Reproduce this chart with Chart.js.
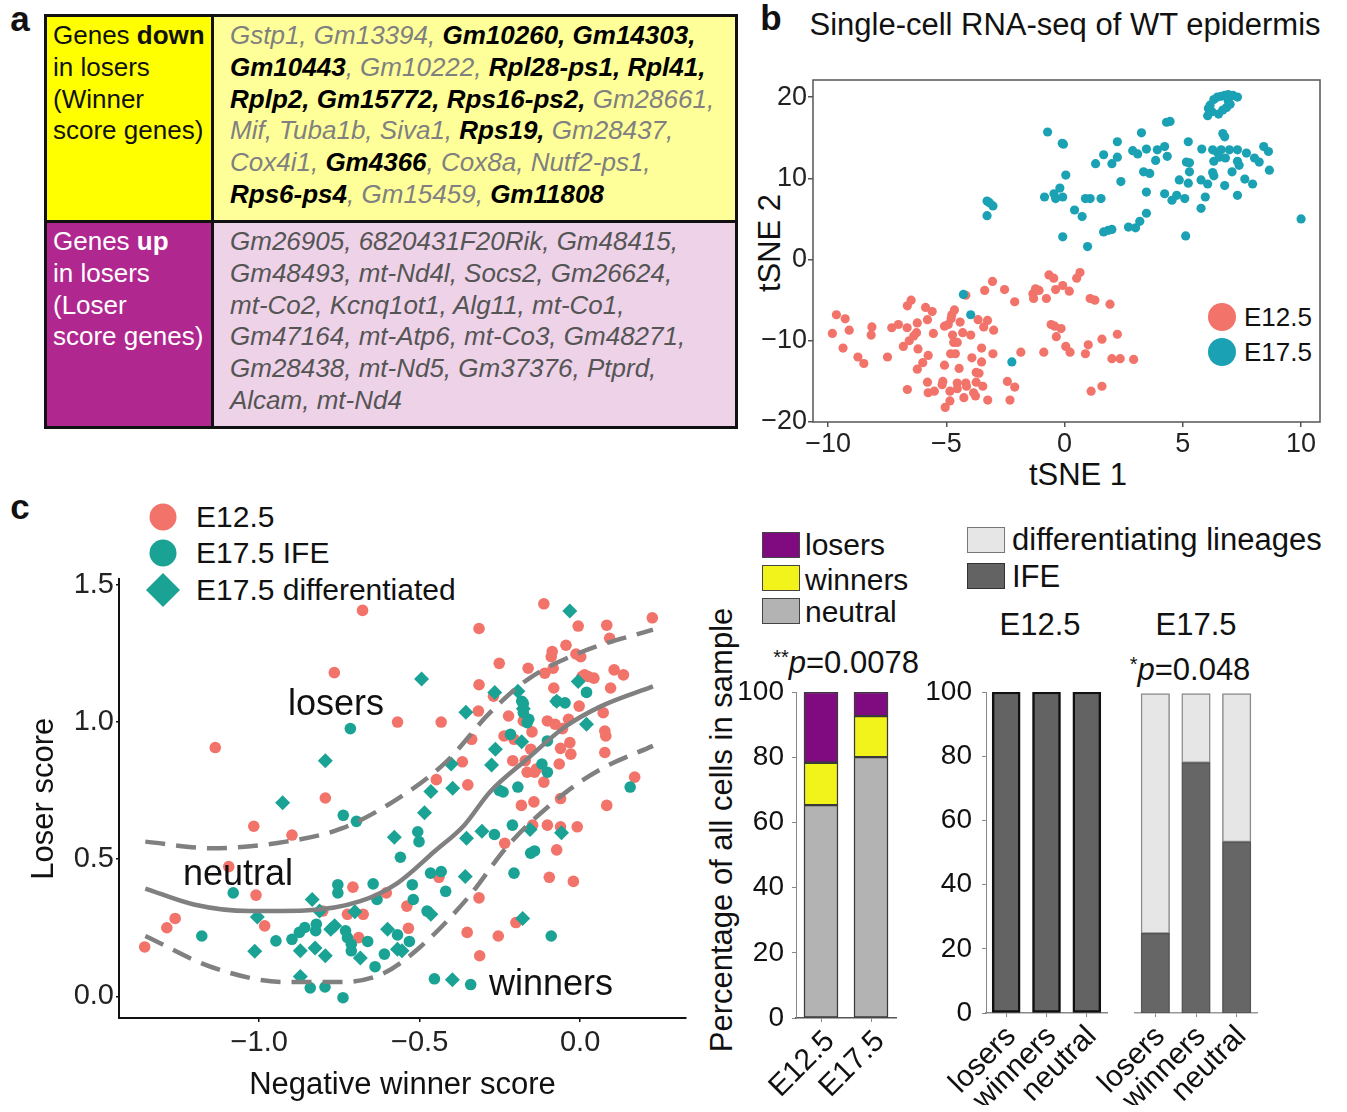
<!DOCTYPE html>
<html><head><meta charset="utf-8">
<script src="https://cdn.jsdelivr.net/npm/chart.js@4.4.1/dist/chart.umd.min.js"></script>
<style>
html,body{margin:0;padding:0;background:#fff;}
body{width:1347px;height:1112px;position:relative;overflow:hidden;font-family:'Liberation Sans',Arial,sans-serif;color:#111;}
.c{position:absolute;transform:translate(-50%,-50%);white-space:nowrap;}
.l{position:absolute;transform:translateY(-50%);white-space:nowrap;}
.rot{position:absolute;transform:translate(-50%,-50%) rotate(-90deg);white-space:nowrap;}
canvas{position:absolute;}
.cell{position:absolute;box-sizing:border-box;border:3px solid #111;font-size:26px;line-height:31.8px;white-space:nowrap;}
.g{color:#808080;font-style:italic;}
.k{color:#000;font-style:italic;font-weight:bold;}
.box{position:absolute;box-sizing:border-box;border:1.5px solid #444;}
.dot{position:absolute;border-radius:50%;transform:translate(-50%,-50%);}
</style>
</head><body>

<!-- panel letters -->
<div class="c" style="left:20px;top:19px;font-size:35px;font-weight:bold;">a</div>
<div class="c" style="left:771px;top:18px;font-size:35px;font-weight:bold;">b</div>
<div class="c" style="left:20px;top:507px;font-size:35px;font-weight:bold;">c</div>

<!-- panel a table -->
<div class="cell" style="left:44px;top:14px;width:170px;height:209px;background:#ffff00;padding:3px 0 0 6px;">Genes <b>down</b><br>in losers<br>(Winner<br>score genes)</div>
<div class="cell" style="left:211px;top:14px;width:527px;height:209px;background:#ffff99;padding:3px 0 0 16px;">
<span class="g">Gstp1, Gm13394, </span><span class="k">Gm10260, Gm14303,</span><br>
<span class="k">Gm10443</span><span class="g">, Gm10222, </span><span class="k">Rpl28-ps1, Rpl41,</span><br>
<span class="k">Rplp2, Gm15772, Rps16-ps2,</span><span class="g"> Gm28661,</span><br>
<span class="g">Mif, Tuba1b, Siva1, </span><span class="k">Rps19,</span><span class="g"> Gm28437,</span><br>
<span class="g">Cox4i1, </span><span class="k">Gm4366</span><span class="g">, Cox8a, Nutf2-ps1,</span><br>
<span class="k">Rps6-ps4</span><span class="g">, Gm15459, </span><span class="k">Gm11808</span></div>
<div class="cell" style="left:44px;top:220px;width:170px;height:209px;background:#b0288f;color:#fff;padding:3px 0 0 6px;">Genes <b>up</b><br>in losers<br>(Loser<br>score genes)</div>
<div class="cell" style="left:211px;top:220px;width:527px;height:209px;background:#eed2e8;color:#555;font-style:italic;padding:3px 0 0 16px;">Gm26905, 6820431F20Rik, Gm48415,<br>Gm48493, mt-Nd4l, Socs2, Gm26624,<br>mt-Co2, Kcnq1ot1, Alg11, mt-Co1,<br>Gm47164, mt-Atp6, mt-Co3, Gm48271,<br>Gm28438, mt-Nd5, Gm37376, Ptprd,<br>Alcam, mt-Nd4</div>

<!-- panel b texts -->
<div class="c" style="left:1065px;top:25px;font-size:31px;">Single-cell RNA-seq of WT epidermis</div>
<div class="rot" style="left:770px;top:243px;font-size:31px;">tSNE 2</div>
<div class="c" style="left:1078px;top:475px;font-size:31px;">tSNE 1</div>
<div class="dot" style="left:1222px;top:317px;width:28px;height:28px;background:#f1736a;"></div>
<div class="dot" style="left:1222px;top:352px;width:28px;height:28px;background:#1ba1b4;"></div>
<div class="l" style="left:1244px;top:317px;font-size:26px;">E12.5</div>
<div class="l" style="left:1244px;top:352px;font-size:26px;">E17.5</div>

<!-- panel c scatter legend -->
<div class="dot" style="left:163px;top:517px;width:27px;height:27px;background:#f1736a;"></div>
<div class="dot" style="left:163px;top:553px;width:27px;height:27px;background:#1aa394;"></div>
<div style="position:absolute;left:151px;top:578px;width:24px;height:24px;background:#1aa394;transform:rotate(45deg);"></div>
<div class="l" style="left:196px;top:517px;font-size:30px;">E12.5</div>
<div class="l" style="left:196px;top:553px;font-size:30px;">E17.5 IFE</div>
<div class="l" style="left:196px;top:590px;font-size:30px;">E17.5 differentiated</div>

<!-- bar legends and titles -->
<div class="box" style="left:762px;top:532px;width:38px;height:26px;background:#800a80;"></div>
<div class="box" style="left:762px;top:565px;width:38px;height:26px;background:#f3f31c;"></div>
<div class="box" style="left:762px;top:598px;width:38px;height:26px;background:#b3b3b3;"></div>
<div class="l" style="left:805px;top:545px;font-size:30px;">losers</div>
<div class="l" style="left:805px;top:580px;font-size:30px;">winners</div>
<div class="l" style="left:805px;top:612px;font-size:30px;">neutral</div>
<div class="box" style="left:967px;top:527px;width:38px;height:26px;background:#e6e6e6;border-color:#777;"></div>
<div class="box" style="left:967px;top:563px;width:38px;height:26px;background:#636363;border-color:#333;"></div>
<div class="l" style="left:1012px;top:540px;font-size:31px;">differentiating lineages</div>
<div class="l" style="left:1012px;top:577px;font-size:31px;">IFE</div>
<div class="c" style="left:1040px;top:625px;font-size:31px;">E12.5</div>
<div class="c" style="left:1196px;top:625px;font-size:31px;">E17.5</div>
<div class="c" style="left:846px;top:663px;font-size:31px;"><span style="font-size:20px;position:relative;top:-9px;">**</span><i>p</i>=0.0078</div>
<div class="c" style="left:1190px;top:670px;font-size:31px;"><span style="font-size:20px;position:relative;top:-9px;">*</span><i>p</i>=0.048</div>
<div class="rot" style="left:722px;top:830px;font-size:31px;">Percentage of all cells in sample</div>

<canvas id="cb" width="640" height="460" style="left:700px;top:50px;"></canvas>
<canvas id="cc" width="700" height="550" style="left:0px;top:560px;"></canvas>
<canvas id="cl" width="230" height="460" style="left:700px;top:650px;"></canvas>
<canvas id="cm" width="205" height="460" style="left:915px;top:650px;"></canvas>
<canvas id="cr" width="262" height="460" style="left:1085px;top:650px;"></canvas>

<!-- annotations over scatter c -->
<div class="c" style="left:336px;top:703px;font-size:36px;">losers</div>
<div class="c" style="left:238px;top:873px;font-size:36px;">neutral</div>
<div class="c" style="left:551px;top:983px;font-size:36px;">winners</div>

<script>
// ---------- panel b: tSNE ----------
const tsneE125 = [[-9.65,-6.8],[-9.28,-7.3],[-9.82,-9.1],[-9.37,-10.9],[-9.11,-8.7],[-8.74,-12.0],[-8.49,-12.8],[-8.15,-8.3],[-8.18,-9.3],[-7.49,-12.0],[-7.31,-8.4],[-7.03,-8.0],[-6.82,-10.7],[-6.66,-8.4],[-6.65,-5.7],[-6.49,-5.0],[-6.57,-10.0],[-6.38,-9.4],[-6.26,-9.0],[-6.23,-7.8],[-6.2,-11.0],[-6.23,-13.5],[-6.0,-12.7],[-5.88,-5.9],[-5.8,-7.4],[-5.77,-11.8],[-5.8,-15.1],[-5.77,-16.4],[-5.6,-6.4],[-5.55,-9.1],[-5.51,-16.2],[-6.65,-16.0],[-5.18,-15.4],[-5.15,-15.0],[-5.08,-13.0],[-5.05,-18.2],[-5.08,-8.2],[-4.92,-8.0],[-4.85,-17.4],[-4.85,-16.2],[-4.8,-7.3],[-4.77,-6.8],[-4.66,-6.2],[-4.74,-9.3],[-4.69,-10.2],[-4.54,-10.2],[-4.82,-11.6],[-4.62,-11.6],[-4.54,-15.2],[-4.54,-15.9],[-4.46,-13.4],[-4.42,-7.7],[-4.31,-9.0],[-4.18,-4.4],[-4.18,-15.2],[-4.26,-17.0],[-4.15,-15.6],[-3.97,-9.3],[-3.92,-12.1],[-3.85,-16.4],[-3.77,-16.8],[-3.74,-13.9],[-3.62,-14.0],[-3.74,-15.1],[-3.66,-7.4],[-3.51,-10.9],[-3.51,-12.6],[-3.46,-15.6],[-3.42,-8.3],[-3.38,-3.8],[-3.26,-7.5],[-3.25,-17.3],[-3.05,-2.7],[-3.03,-11.6],[-3.0,-8.7],[-2.54,-3.7],[-2.42,-15.0],[-2.31,-17.3],[-2.11,-5.2],[-2.11,-15.7],[-1.85,-11.4],[-1.34,-4.2],[-1.31,-4.8],[-1.23,-3.6],[-1.08,-3.8],[-0.77,-4.8],[-0.88,-11.4],[-0.66,-1.9],[-0.46,-2.3],[-0.38,-3.7],[-0.57,-8.0],[-0.42,-8.2],[-0.35,-9.5],[-0.15,-8.5],[-0.08,-3.2],[0.05,-10.7],[0.23,-11.4],[0.2,-3.9],[0.51,-2.3],[0.65,-1.6],[0.88,-11.6],[1.0,-10.5],[1.08,-4.8],[1.28,-5.0],[1.12,-16.2],[1.58,-9.8],[1.58,-15.6],[1.92,-5.5],[2.0,-12.2],[2.23,-9.2],[2.35,-12.2],[2.92,-12.3]];
const tsneE175 = [[-0.72,15.7],[-0.1,14.3],[-0.05,14.2],[0.05,10.4],[-0.85,7.7],[-0.45,8.1],[-0.38,7.5],[-0.2,8.8],[-0.08,7.7],[-0.08,2.8],[0.42,6.1],[0.74,5.3],[0.88,7.5],[1.08,7.5],[0.97,1.6],[1.31,11.8],[1.54,7.5],[1.65,12.9],[2.0,11.8],[2.23,12.6],[2.23,14.5],[2.38,9.6],[1.65,3.4],[1.85,3.6],[2.0,3.7],[2.7,4.0],[3.0,3.9],[3.18,4.7],[2.88,13.4],[3.09,13.0],[3.25,15.6],[3.34,10.8],[3.46,13.6],[3.6,10.6],[3.46,8.3],[3.46,5.7],[3.92,13.5],[3.85,12.2],[4.23,13.9],[4.34,12.7],[4.23,8.1],[4.54,7.3],[4.74,7.9],[4.31,16.9],[4.46,17.0],[4.85,9.8],[5.08,7.5],[5.12,2.9],[5.23,14.5],[5.15,12.0],[5.28,11.9],[5.28,10.8],[5.23,9.4],[5.77,9.8],[5.8,13.6],[5.77,6.3],[5.95,7.7],[6.05,9.3],[6.26,13.5],[6.31,12.1],[6.26,10.7],[6.31,10.3],[6.46,13.2],[6.54,12.6],[6.62,13.5],[6.69,15.5],[6.77,15.1],[6.8,12.5],[6.77,9.1],[6.97,13.5],[7.08,10.8],[7.31,13.5],[7.31,12.1],[7.38,11.6],[7.31,7.9],[7.62,9.9],[7.69,13.1],[7.95,9.3],[8.03,12.5],[8.23,12.0],[8.42,13.9],[8.62,13.3],[8.66,11.0],[10.0,5.0],[6.08,18.6],[6.15,19.0],[6.31,19.7],[6.46,20.0],[6.62,20.1],[6.77,20.2],[6.92,20.3],[7.12,20.2],[7.31,20.0],[6.23,18.2],[6.05,17.7],[6.51,17.9],[6.69,18.4],[6.85,18.7],[7.0,19.1],[6.92,19.5],[-3.28,7.2],[-3.18,7.0],[-3.03,6.6],[-3.28,5.4],[-4.28,-4.3],[-3.97,-6.8],[-2.23,-12.6]];
const tsneXTicks = [-10,-5,0,5,10];
const tsneXTickLabels = ['\u221210','\u22125','0','5','10'];
const tsneYTicks = [-20,-10,0,10,20];
const tsneYTickLabels = ['\u221220','\u221210','0','10','20'];

// ---------- panel c: scores ----------
const scoreE125 = [[-1.357,0.18],[-1.288,0.25],[-1.262,0.284],[-1.137,0.907],[-1.095,0.473],[-1.017,0.62],[-1.01,0.369],[-0.983,0.257],[-0.898,0.588],[-0.794,0.723],[-0.766,1.18],[-0.802,0.311],[-0.708,0.398],[-0.725,0.299],[-0.676,0.299],[-0.69,0.214],[-0.678,1.407],[-0.604,0.377],[-0.569,1.0],[-0.54,0.329],[-0.535,0.248],[-0.44,0.434],[-0.448,0.79],[-0.433,1.0],[-0.367,0.855],[-0.35,0.771],[-0.352,0.233],[-0.338,0.937],[-0.317,1.04],[-0.315,1.136],[-0.315,1.341],[-0.315,0.359],[-0.313,0.148],[-0.27,1.094],[-0.252,1.214],[-0.237,0.949],[-0.235,0.558],[-0.255,0.22],[-0.223,1.022],[-0.21,0.859],[-0.206,0.937],[-0.2,0.269],[-0.183,0.696],[-0.177,1.004],[-0.171,0.859],[-0.165,0.817],[-0.162,1.196],[-0.154,0.901],[-0.15,0.964],[-0.144,0.709],[-0.142,0.817],[-0.136,0.829],[-0.148,0.624],[-0.113,0.781],[-0.11,1.178],[-0.102,1.004],[-0.102,0.624],[-0.096,0.434],[-0.09,1.238],[-0.087,1.257],[-0.084,1.196],[-0.082,1.124],[-0.078,0.992],[-0.073,0.534],[-0.065,0.847],[-0.061,0.721],[-0.061,0.618],[-0.061,0.904],[-0.055,0.976],[-0.044,1.28],[-0.036,1.01],[-0.032,0.925],[-0.029,0.883],[-0.021,0.419],[-0.013,1.248],[-0.009,0.618],[-0.006,1.35],[-0.003,1.058],[0.002,1.238],[0.006,1.166],[0.014,1.172],[0.025,1.166],[0.043,1.16],[0.072,1.034],[0.077,0.967],[0.08,0.949],[0.077,0.889],[0.083,1.353],[0.083,0.696],[0.092,1.305],[0.095,1.124],[0.106,1.19],[0.135,1.172],[0.17,0.799],[0.225,1.38],[-0.113,1.431]];
const scoreIFE = [[-1.179,0.22],[-1.081,0.377],[-0.948,0.202],[-0.898,0.208],[-0.875,0.233],[-0.858,0.251],[-0.841,0.031],[-0.824,0.239],[-0.822,0.263],[-0.795,0.034],[-0.755,0.407],[-0.755,0.377],[-0.738,0.66],[-0.731,0.239],[-0.725,0.214],[-0.713,0.19],[-0.713,0.166],[-0.739,-0.005],[-0.716,0.976],[-0.697,0.638],[-0.662,0.2],[-0.645,0.41],[-0.639,0.108],[-0.633,0.353],[-0.61,0.154],[-0.569,0.224],[-0.56,0.507],[-0.532,0.2],[-0.523,0.407],[-0.52,0.353],[-0.506,0.6],[-0.502,0.564],[-0.477,0.311],[-0.466,0.449],[-0.433,0.455],[-0.419,0.383],[-0.454,0.064],[-0.341,0.043],[-0.267,0.59],[-0.252,0.751],[-0.24,0.745],[-0.211,0.624],[-0.217,0.955],[-0.206,0.449],[-0.194,0.763],[-0.182,1.076],[-0.177,1.034],[-0.165,0.998],[-0.154,0.522],[-0.142,0.53],[-0.119,0.847],[-0.102,0.817],[-0.102,0.931],[-0.09,0.22],[-0.073,1.076],[-0.047,1.07],[0.02,1.108],[0.156,0.763],[-0.177,1.068],[-0.16,1.01]];
const scoreDiff = [[-1.014,0.164],[-1.006,0.289],[-0.927,0.706],[-0.872,0.072],[-0.872,0.166],[-0.835,0.353],[-0.826,0.176],[-0.812,0.311],[-0.794,0.859],[-0.794,0.148],[-0.777,0.245],[-0.765,0.257],[-0.702,0.308],[-0.685,0.14],[-0.6,0.245],[-0.579,0.58],[-0.569,0.172],[-0.555,0.166],[-0.494,1.157],[-0.485,0.669],[-0.465,0.747],[-0.465,0.299],[-0.402,0.847],[-0.398,0.06],[-0.397,0.759],[-0.358,0.437],[-0.356,1.036],[-0.354,0.576],[-0.306,0.602],[-0.276,0.843],[-0.266,1.108],[-0.264,0.901],[-0.194,1.112],[-0.182,0.928],[-0.179,0.284],[-0.177,1.048],[-0.156,0.608],[-0.073,1.076],[-0.058,0.596],[-0.032,1.405],[-0.006,1.148],[0.02,0.992]];
const fitCurve = [[-1.355,0.393],[-1.204,0.335],[-1.031,0.311],[-0.858,0.313],[-0.685,0.347],[-0.569,0.413],[-0.454,0.528],[-0.361,0.624],[-0.281,0.745],[-0.165,0.865],[-0.05,0.98],[0.066,1.058],[0.227,1.13]];
const upperBand = [[-1.355,0.564],[-1.147,0.54],[-0.916,0.564],[-0.743,0.612],[-0.569,0.72],[-0.419,0.853],[-0.281,1.034],[-0.165,1.154],[0.008,1.257],[0.227,1.337]];
const lowerBand = [[-1.355,0.22],[-1.147,0.106],[-0.916,0.052],[-0.743,0.052],[-0.616,0.082],[-0.5,0.178],[-0.35,0.359],[-0.223,0.552],[-0.05,0.739],[0.066,0.829],[0.227,0.913]];
const scoreXTicks = [-1.0,-0.5,0.0];
const scoreXTickLabels = ['\u22121.0','\u22120.5','0.0'];
const scoreYTicks = [0,0.5,1.0,1.5];
const scoreYTickLabels = ['0.0','0.5','1.0','1.5'];

// ---------- panel c: bars ----------
const sampleLabels = ['E12.5','E17.5'];
const neutralPct = [65.3, 80.0];
const winnersPct = [13.0, 12.6];
const losersPct = [21.7, 7.4];
const groupLabels = ['losers','winners','neutral'];
const ifeE125 = [100, 100, 100];
const diffE125 = [0, 0, 0];
const ifeE175 = [24.8, 78.0, 53.3];
const diffE175 = [74.7, 21.5, 46.2];
const pctTicks = [0,20,40,60,80,100];

Chart.defaults.font.family = "'Liberation Sans', Arial, sans-serif";
Chart.defaults.color = '#111';

const toXY = arr => arr.map(([x, y]) => ({x, y}));
const setTicks = list => s => { s.ticks = list.map(v => ({value: v})); };
const base = {animation:false, responsive:false, devicePixelRatio:1, events:[]};
const noLegend = {legend:{display:false}, tooltip:{enabled:false}};

const framePlugin = {
  id:'frame',
  afterDatasetsDraw(chart){
    const {ctx, chartArea:a} = chart;
    ctx.save(); ctx.strokeStyle='#555'; ctx.lineWidth=1.5;
    ctx.strokeRect(a.left, a.top, a.right-a.left, a.bottom-a.top);
    ctx.restore();
  }
};

// panel b
new Chart(document.getElementById('cb'), {
  type:'scatter',
  data:{datasets:[
    {label:'E12.5', data:toXY(tsneE125), backgroundColor:'#f1736a', borderWidth:0, pointRadius:4.6, order:1},
    {label:'E17.5', data:toXY(tsneE175), backgroundColor:'#1ba1b4', borderWidth:0, pointRadius:4.6, order:0}
  ]},
  options:{...base,
    layout:{padding:{left:53, top:30, right:20, bottom:38}},
    plugins:noLegend,
    scales:{
      x:{type:'linear', min:-10.64, max:10.8, afterFit:s=>{s.height=50;}, afterBuildTicks:setTicks(tsneXTicks),
         ticks:{callback:(v,i)=>tsneXTickLabels[i], font:{size:27}, color:'#222', padding:1, maxRotation:0},
         grid:{drawOnChartArea:false, tickLength:5, color:'#555', lineWidth:1.5}, border:{display:false}},
      y:{type:'linear', min:-20, max:22.1, afterFit:s=>{s.width=60;}, afterBuildTicks:setTicks(tsneYTicks),
         ticks:{callback:(v,i)=>tsneYTickLabels[i], font:{size:27}, color:'#222', padding:1},
         grid:{drawOnChartArea:false, tickLength:5, color:'#555', lineWidth:1.5}, border:{display:false}}
    }
  },
  plugins:[framePlugin]
});

// panel c scatter
const lineDs = (label, pts, dash) => ({label, type:'line', data:toXY(pts), borderColor:'#808080', borderWidth:4.5,
  borderDash:dash, pointRadius:0, cubicInterpolationMode:'monotone', fill:false, order:0, borderCapStyle:'butt'});
new Chart(document.getElementById('cc'), {
  type:'scatter',
  data:{datasets:[
    lineDs('fit', fitCurve, []),
    lineDs('upper', upperBand, [20,11]),
    lineDs('lower', lowerBand, [20,11]),
    {label:'E12.5', data:toXY(scoreE125), backgroundColor:'#f1736a', borderWidth:0, pointRadius:5.8, order:3},
    {label:'E17.5 IFE', data:toXY(scoreIFE), backgroundColor:'#1aa394', borderWidth:0, pointRadius:5.8, order:2},
    {label:'E17.5 differentiated', data:toXY(scoreDiff), backgroundColor:'#1aa394', borderWidth:0, pointStyle:'rectRot', pointRadius:7.5, order:1}
  ]},
  options:{...base,
    layout:{padding:{left:26, top:15, right:14, bottom:6}},
    plugins:noLegend,
    scales:{
      x:{type:'linear', min:-1.437, max:0.33, afterFit:s=>{s.height=86;}, afterBuildTicks:setTicks(scoreXTicks),
         ticks:{callback:(v,i)=>scoreXTickLabels[i], font:{size:29}, color:'#222', padding:4, maxRotation:0},
         grid:{drawOnChartArea:false, tickLength:4, color:'#111', lineWidth:1.5},
         border:{display:true, color:'#111', width:2},
         title:{display:true, text:'Negative winner score', font:{size:31}, color:'#111', padding:0}},
      y:{type:'linear', min:-0.079, max:1.52, afterFit:s=>{s.width=93;}, afterBuildTicks:setTicks(scoreYTicks),
         ticks:{callback:(v,i)=>scoreYTickLabels[i], font:{size:29}, color:'#222', padding:2},
         grid:{drawOnChartArea:false, tickLength:3, color:'#111', lineWidth:1.5},
         border:{display:true, color:'#111', width:2},
         title:{display:true, text:'Loser score', font:{size:31}, color:'#111', padding:0}}
    }
  }
});

// bar helpers
const barX = (borderColor, shift) => ({type:'category', offset:true, stacked:true, afterFit:s=>{s.height=92;},
  ticks:{font:{size:30}, color:'#111', padding:2, minRotation:45, maxRotation:45, autoSkip:false, labelOffset:shift},
  grid:{drawOnChartArea:false, offset:false, tickLength:4, color:'#888', lineWidth:1},
  border:{display:true, color:borderColor, width:1.5}});
const barY = (width, show, pad) => ({type:'linear', min:0, max:100, stacked:true, display:show, afterFit:s=>{s.width=width;},
  afterBuildTicks:setTicks(pctTicks),
  ticks:{font:{size:28}, color:'#111', padding:pad},
  grid:{drawOnChartArea:false, tickLength:4, color:'#888', lineWidth:1},
  border:{display:true, color:'#888', width:1}});
const barDs = (label, vals, color, border, bw, thick) => ({label, data:vals, backgroundColor:color,
  borderColor:border, borderWidth:bw, borderSkipped:false, barThickness:thick});

// left bar chart
new Chart(document.getElementById('cl'), {
  type:'bar',
  data:{labels:sampleLabels, datasets:[
    barDs('neutral', neutralPct, '#b3b3b3', '#3a3a3a', 1.5, 34),
    barDs('winners', winnersPct, '#f3f31c', '#3a3a3a', 1.5, 34),
    barDs('losers', losersPct, '#800a80', '#3a3a3a', 1.5, 34)
  ]},
  options:{...base, layout:{padding:{left:10, top:42, right:34, bottom:0}}, plugins:noLegend,
    scales:{x:barX('#555', 9), y:barY(86, true, 8)}}
});

// middle bar chart (E12.5)
new Chart(document.getElementById('cm'), {
  type:'bar',
  data:{labels:groupLabels, datasets:[
    barDs('IFE', ifeE125, '#636363', '#111', 2.5, 28),
    barDs('differentiating lineages', diffE125, '#e6e6e6', '#8c8c8c', 1.5, 28)
  ]},
  options:{...base, layout:{padding:{left:3, top:42, right:13, bottom:5}}, plugins:noLegend,
    scales:{x:barX('#888', 5), y:barY(68, true, 10)}}
});

// right bar chart (E17.5)
new Chart(document.getElementById('cr'), {
  type:'bar',
  data:{labels:groupLabels, datasets:[
    barDs('IFE', ifeE175, '#666666', '#555', 1.5, 28.5),
    barDs('differentiating lineages', diffE175, '#e6e6e6', '#8c8c8c', 1.5, 28.5)
  ]},
  options:{...base, layout:{padding:{left:50, top:42, right:90, bottom:5}}, plugins:noLegend,
    scales:{x:barX('#999', 5), y:barY(0, false, 2)}}
});
</script>
</body></html>
